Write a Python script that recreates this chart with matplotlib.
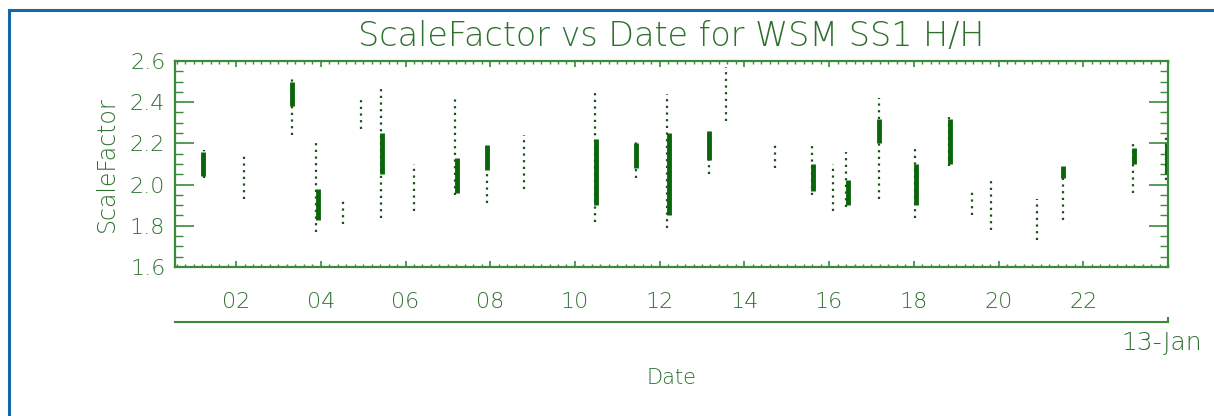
import matplotlib
matplotlib.use('Agg')
import matplotlib.pyplot as plt
from matplotlib.lines import Line2D
from matplotlib.ticker import MultipleLocator, FormatStrFormatter

# Clusters of ScaleFactor samples on 13-Jan (hour of day, min, max)
clus_hour = [1.24, 2.19, 3.32, 3.89, 4.53, 4.95, 5.42, 6.20, 7.17, 7.93,
             8.80, 10.48, 11.45, 12.18, 13.17, 13.57, 14.73, 15.60, 16.10, 16.40,
             17.18, 18.03, 18.84, 19.38, 19.83, 20.91, 21.53, 23.18, 23.96]
clus_lo = [2.03, 1.93, 2.24, 1.77, 1.81, 2.27, 1.84, 1.87, 1.95, 1.91,
           1.98, 1.82, 2.03, 1.79, 2.05, 2.31, 2.08, 1.95, 1.87, 1.89,
           1.93, 1.84, 2.09, 1.85, 1.78, 1.73, 1.83, 1.96, 2.02]
clus_hi = [2.17, 2.14, 2.52, 2.20, 1.92, 2.43, 2.48, 2.10, 2.43, 2.19,
           2.24, 2.45, 2.21, 2.44, 2.26, 2.57, 2.19, 2.19, 2.10, 2.16,
           2.42, 2.18, 2.34, 1.97, 2.03, 1.93, 2.08, 2.20, 2.24]

# Densely sampled stretches inside the clusters
dense_hour = [1.22, 3.32, 3.93, 5.45, 7.22, 7.93, 10.50, 11.45, 12.22, 13.17,
              15.62, 16.45, 17.18, 18.06, 18.86, 21.52, 23.20, 23.98]
dense_lo = [2.04, 2.38, 1.83, 2.05, 1.96, 2.07, 1.90, 2.08, 1.85, 2.12,
            1.97, 1.90, 2.20, 1.90, 2.10, 2.03, 2.10, 2.05]
dense_hi = [2.16, 2.50, 1.98, 2.25, 2.13, 2.19, 2.22, 2.20, 2.25, 2.26,
            2.10, 2.02, 2.32, 2.10, 2.32, 2.09, 2.18, 2.20]

tick_hours = [2, 4, 6, 8, 10, 12, 14, 16, 18, 20, 22]
tick_labels = ['02', '04', '06', '08', '10', '12', '14', '16', '18', '20', '22']

green = '#3a8a3a'
text_green = '#2f702f'
dot_green = '#1d4f1d'
fill_green = '#0b660b'

fig = plt.figure(figsize=(12.14, 4.16), dpi=100)
ax = fig.add_axes([0.1442, 0.3582, 0.8179, 0.4952])

ax.vlines(clus_hour, clus_lo, clus_hi, colors=dot_green, linewidth=1.6,
          linestyles=(0, (1, 2)))
ax.vlines(dense_hour, dense_lo, dense_hi, colors=fill_green, linewidth=3.5)

ax.set_xlim(0.56, 24.0)
ax.set_ylim(1.6, 2.6)

ax.set_xticks(tick_hours)
ax.set_xticklabels(tick_labels, fontweight='light')
ax.xaxis.set_minor_locator(MultipleLocator(0.2))
ax.yaxis.set_major_locator(MultipleLocator(0.2))
ax.yaxis.set_minor_locator(MultipleLocator(0.05))
ax.yaxis.set_major_formatter(FormatStrFormatter('%.1f'))
for lab in ax.get_yticklabels():
    lab.set_fontweight('light')

ax.tick_params(axis='x', which='major', direction='in', length=4, width=1.2,
               top=True, bottom=True, color=green, labelcolor=text_green,
               labelsize=16, pad=18)
ax.tick_params(axis='x', which='minor', direction='in', length=2.5, width=1,
               top=True, bottom=True, color=green)
ax.tick_params(axis='y', which='major', direction='in', length=14, width=1.2,
               left=True, right=True, color=green, labelcolor=text_green,
               labelsize=16, pad=7)
ax.tick_params(axis='y', which='minor', direction='in', length=6, width=1,
               left=True, right=True, color=green)
for s in ax.spines.values():
    s.set_color(green)
    s.set_linewidth(1.6)

ax.set_title('ScaleFactor vs Date for WSM SS1 H/H', color=text_green,
             fontsize=24, y=1.03, fontweight='light')
ax.set_ylabel('ScaleFactor', color=text_green, fontsize=17, labelpad=8,
              fontweight='light')

# Second level of the date axis
ax.plot([0, 1], [-0.267, -0.267], transform=ax.transAxes, clip_on=False,
        color=green, linewidth=1.5)
ax.plot([1, 1], [-0.267, -0.25], transform=ax.transAxes, clip_on=False,
        color=green, linewidth=1.5)
ax.text(0.953, -0.37, '13-Jan', transform=ax.transAxes, ha='left', va='center',
        color=text_green, fontsize=18, fontweight='light')
ax.text(0.5, -0.54, 'Date', transform=ax.transAxes, ha='center', va='center',
        color=text_green, fontsize=15, fontweight='light')

# Blue page frame
fig.add_artist(Line2D([0.0075, 0.0075], [0, 0.977], color='#1766a6', linewidth=2.2))
fig.add_artist(Line2D([0.0075, 1.0], [0.977, 0.977], color='#1766a6', linewidth=2.2))

fig.savefig('out.png', dpi=100)
